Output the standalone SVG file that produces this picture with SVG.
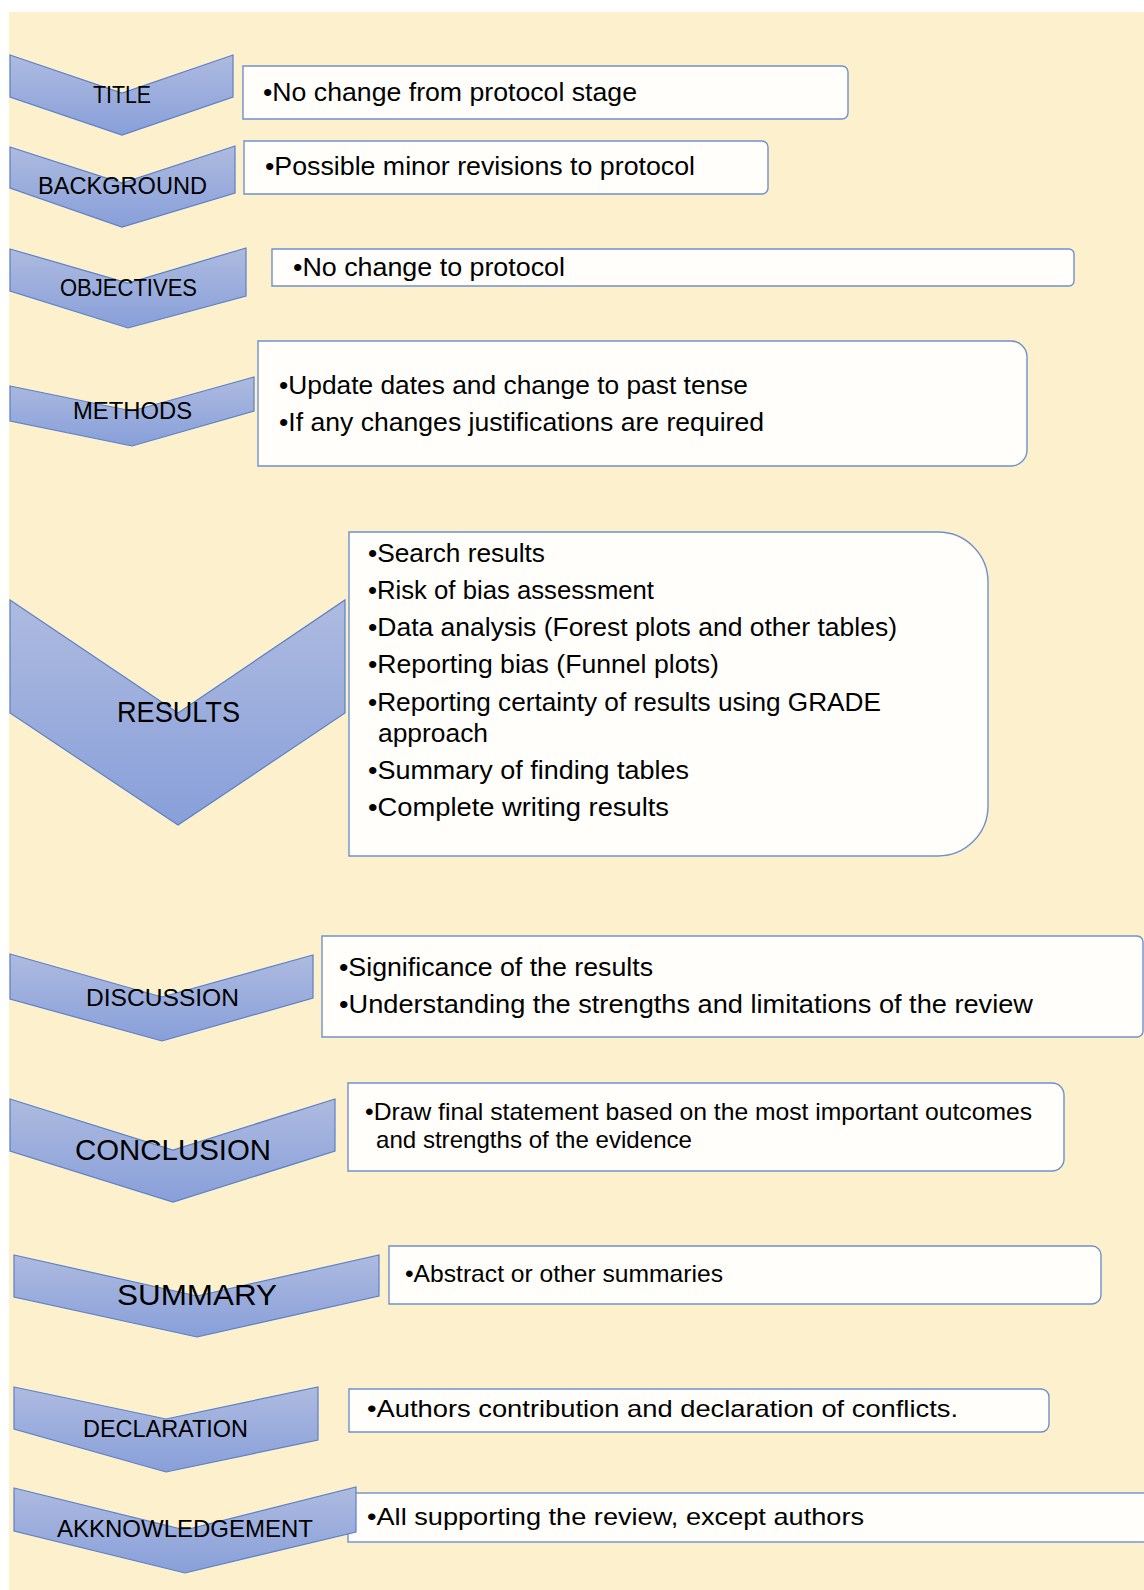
<svg xmlns="http://www.w3.org/2000/svg" width="1144" height="1590" viewBox="0 0 1144 1590">
<defs>
<linearGradient id="chev" x1="0" y1="0" x2="0" y2="1">
<stop offset="0" stop-color="#aebbe0"/>
<stop offset="1" stop-color="#889fd9"/>
</linearGradient>
<style>
.chev{fill:url(#chev);stroke:#5b80c8;stroke-width:1.2;stroke-linejoin:miter}
.box{fill:#fffefa;stroke:#6f90cc;stroke-width:1.4}
.lab{font-family:"Liberation Sans",Arial,sans-serif;fill:#000}
.txt{font-family:"Liberation Sans",Arial,sans-serif;fill:#000}
</style>
</defs>
<rect x="0" y="0" width="1144" height="1590" fill="#ffffff"/>
<rect x="9" y="12" width="1135" height="1578" fill="#fdf0cd"/>
<g id="connectors"/>

<g id="title">
<polygon class="chev" points="10,55 122,93 233,55 233,97 122,135 10,97"/>
<text class="lab" x="93" y="103" font-size="24" textLength="58" lengthAdjust="spacingAndGlyphs">TITLE</text>
<path class="box" d="M243 66 H842 A6 6 0 0 1 848 72 V113 A6 6 0 0 1 842 119 H243 Z"/>
<text class="txt" x="263" y="101" font-size="26" textLength="374" lengthAdjust="spacingAndGlyphs">•No change from protocol stage</text>
</g>

<g id="background">
<polygon class="chev" points="10,147 122,183 235,146 235,193 122,227 10,188"/>
<text class="lab" x="38" y="194" font-size="24" textLength="169" lengthAdjust="spacingAndGlyphs">BACKGROUND</text>
<path class="box" d="M244 141 H762 A6 6 0 0 1 768 147 V188 A6 6 0 0 1 762 194 H244 Z"/>
<text class="txt" x="265" y="175" font-size="26" textLength="430" lengthAdjust="spacingAndGlyphs">•Possible minor revisions to protocol</text>
</g>

<g id="objectives">
<polygon class="chev" points="10,249 128,283 246,248 246,296 128,328 10,291"/>
<text class="lab" x="60" y="296" font-size="24" textLength="137" lengthAdjust="spacingAndGlyphs">OBJECTIVES</text>
<path class="box" d="M272 249 H1069 A5 5 0 0 1 1074 254 V281 A5 5 0 0 1 1069 286 H272 Z"/>
<text class="txt" x="293" y="276" font-size="26" textLength="272" lengthAdjust="spacingAndGlyphs">•No change to protocol</text>
</g>

<g id="methods">
<polygon class="chev" points="10,386 132,411 254,377 254,411 132,446 10,421"/>
<text class="lab" x="73" y="419" font-size="24" textLength="119" lengthAdjust="spacingAndGlyphs">METHODS</text>
<path class="box" d="M258 341 H1011 A16 16 0 0 1 1027 357 V450 A16 16 0 0 1 1011 466 H258 Z"/>
<text class="txt" x="279" y="394" font-size="26" textLength="469" lengthAdjust="spacingAndGlyphs">•Update dates and change to past tense</text>
<text class="txt" x="279" y="431" font-size="26" textLength="485" lengthAdjust="spacingAndGlyphs">•If any changes justifications are required</text>
</g>

<g id="results">
<polygon class="chev" points="10,600 178,713 345,600 345,713 178,825 10,713"/>
<text class="lab" x="117" y="722" font-size="30" textLength="123" lengthAdjust="spacingAndGlyphs">RESULTS</text>
<path class="box" d="M349 532 H938 A50 50 0 0 1 988 582 V806 A50 50 0 0 1 938 856 H349 Z"/>
<text class="txt" x="368" y="562" font-size="26" textLength="177" lengthAdjust="spacingAndGlyphs">•Search results</text>
<text class="txt" x="368" y="599" font-size="26" textLength="286" lengthAdjust="spacingAndGlyphs">•Risk of bias assessment</text>
<text class="txt" x="368" y="636" font-size="26" textLength="529" lengthAdjust="spacingAndGlyphs">•Data analysis (Forest plots and other tables)</text>
<text class="txt" x="368" y="673" font-size="26" textLength="351" lengthAdjust="spacingAndGlyphs">•Reporting bias (Funnel plots)</text>
<text class="txt" x="368" y="711" font-size="26" textLength="513" lengthAdjust="spacingAndGlyphs">•Reporting certainty of results using GRADE</text>
<text class="txt" x="378" y="742" font-size="26" textLength="110" lengthAdjust="spacingAndGlyphs">approach</text>
<text class="txt" x="368" y="779" font-size="26" textLength="321" lengthAdjust="spacingAndGlyphs">•Summary of finding tables</text>
<text class="txt" x="368" y="816" font-size="26" textLength="301" lengthAdjust="spacingAndGlyphs">•Complete writing results</text>
</g>

<g id="discussion">
<polygon class="chev" points="10,954 162,997 313,955 313,998 162,1041 10,999"/>
<text class="lab" x="86" y="1006" font-size="24" textLength="153" lengthAdjust="spacingAndGlyphs">DISCUSSION</text>
<path class="box" d="M322 936 H1137 A6 6 0 0 1 1143 942 V1031 A6 6 0 0 1 1137 1037 H322 Z"/>
<text class="txt" x="339" y="976" font-size="26" textLength="314" lengthAdjust="spacingAndGlyphs">•Significance of the results</text>
<text class="txt" x="339" y="1013" font-size="26" textLength="694" lengthAdjust="spacingAndGlyphs">•Understanding the strengths and limitations of the review</text>
</g>

<g id="conclusion">
<polygon class="chev" points="10,1099 173,1150 335,1099 335,1151 173,1202 10,1151"/>
<text class="lab" x="75" y="1160" font-size="30" textLength="196" lengthAdjust="spacingAndGlyphs">CONCLUSION</text>
<path class="box" d="M348 1083 H1052 A12 12 0 0 1 1064 1095 V1159 A12 12 0 0 1 1052 1171 H348 Z"/>
<text class="txt" x="365" y="1120" font-size="24" textLength="667" lengthAdjust="spacingAndGlyphs">•Draw final statement based on the most important outcomes</text>
<text class="txt" x="376" y="1148" font-size="24" textLength="316" lengthAdjust="spacingAndGlyphs">and strengths of the evidence</text>
</g>

<g id="summary">
<polygon class="chev" points="14,1255 197,1296 379,1255 379,1296 197,1337 14,1297"/>
<text class="lab" x="117" y="1305" font-size="30" textLength="160" lengthAdjust="spacingAndGlyphs">SUMMARY</text>
<path class="box" d="M389 1246 H1092 A9 9 0 0 1 1101 1255 V1295 A9 9 0 0 1 1092 1304 H389 Z"/>
<text class="txt" x="405" y="1282" font-size="24" textLength="318" lengthAdjust="spacingAndGlyphs">•Abstract or other summaries</text>
</g>

<g id="declaration">
<polygon class="chev" points="14,1387 166,1419 318,1387 318,1440 166,1472 14,1429"/>
<text class="lab" x="83" y="1437" font-size="24" textLength="165" lengthAdjust="spacingAndGlyphs">DECLARATION</text>
<path class="box" d="M349 1389 H1041 A8 8 0 0 1 1049 1397 V1424 A8 8 0 0 1 1041 1432 H349 Z"/>
<text class="txt" x="367" y="1417" font-size="24" textLength="591" lengthAdjust="spacingAndGlyphs">•Authors contribution and declaration of conflicts.</text>
</g>

<g id="acknowledgement">
<rect class="box" x="348" y="1493" width="802" height="49"/>
<polygon class="chev" points="14,1488 185,1530 356,1487 356,1532 185,1573 14,1531"/>
<text class="lab" x="57" y="1537" font-size="24" textLength="256" lengthAdjust="spacingAndGlyphs">AKKNOWLEDGEMENT</text>
<text class="txt" x="367" y="1525" font-size="24" textLength="497" lengthAdjust="spacingAndGlyphs">•All supporting the review, except authors</text>
</g>
</svg>
